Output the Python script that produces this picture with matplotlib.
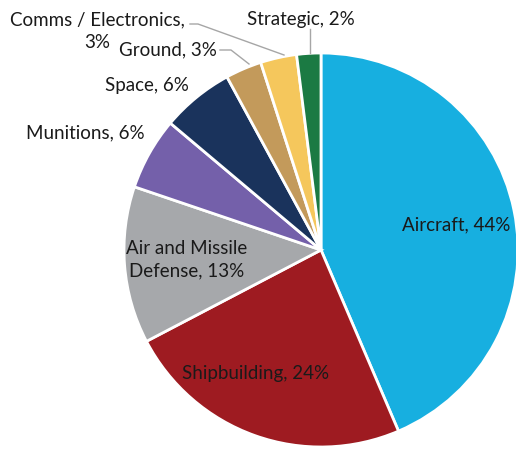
import matplotlib
matplotlib.use("Agg")
import matplotlib.pyplot as plt

categories = ["Aircraft", "Shipbuilding", "Air and Missile Defense", "Munitions",
              "Space", "Ground", "Comms / Electronics", "Strategic"]
values = [44, 24, 13, 6, 6, 3, 3, 2]
label_texts = ["Aircraft, 44%", "Shipbuilding, 24%", "Air and Missile\nDefense, 13%",
               "Munitions, 6%", "Space, 6%", "Ground, 3%", "Comms / Electronics,\n3%",
               "Strategic, 2%"]
colors = ["#17AFE0", "#9E1B21", "#A6A8AB", "#7460AA", "#1A335C", "#C39A5B",
          "#F5C75C", "#1B7A43"]

H = 450
fig = plt.figure(figsize=(5.16, 4.5), dpi=100)
ax = fig.add_axes([0, 0, 1, 1])
ax.set_aspect("equal")
ax.axis("off")

ax.pie(values, colors=colors, startangle=90, counterclock=False,
       center=(321, H - 250), radius=197,
       wedgeprops=dict(edgecolor="white", linewidth=2.0))
ax.set_xlim(0, 516)
ax.set_ylim(0, 450)

font = dict(family=["Lato", "DejaVu Sans"], fontsize=13.5, color="#1a1a1a",
            ha="center", va="center")
# centre of first line of each label (pixels from top-left)
pos = [(456, 225), (256, 373), (187, 248), (85, 133), (147, 86), (168, 50),
       (97, 20), (301, 19)]
line_gap = 23
for (px, py), t in zip(pos, label_texts):
    for i, line in enumerate(t.split("\n")):
        ax.text(px, H - (py + i * line_gap), line, **font)

lc = "#A6A6A6"
# Comms leader
ax.plot([190, 198, 284], [H - 24, H - 24, H - 55], color=lc, lw=1.0)
# Ground leader
ax.plot([220, 231, 249], [H - 50, H - 50, H - 64], color=lc, lw=1.0)
# Strategic leader
ax.plot([310, 310], [H - 29, H - 53], color=lc, lw=1.0)

fig.savefig("out.png", dpi=100)
